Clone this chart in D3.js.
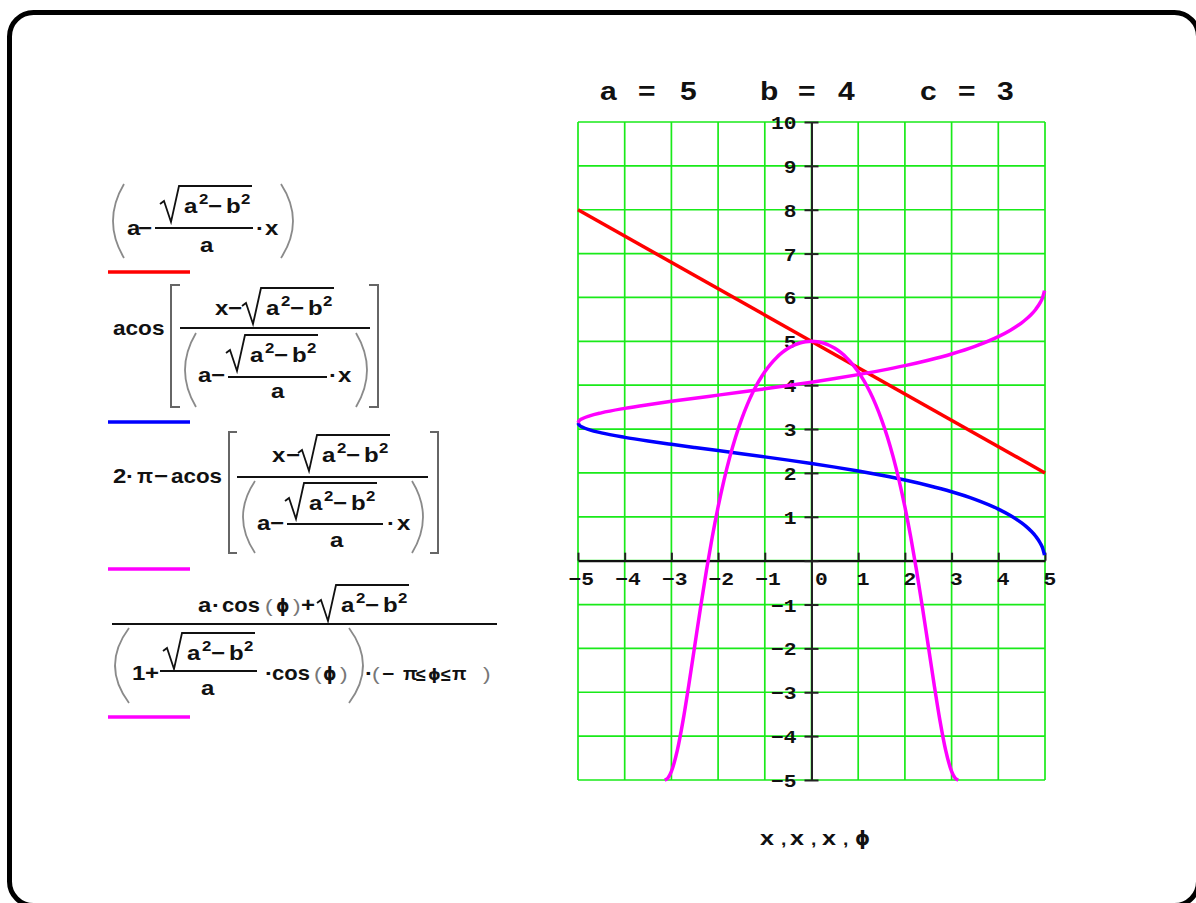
<!DOCTYPE html>
<html>
<head>
<meta charset="utf-8">
<script src="https://cdn.jsdelivr.net/npm/d3@7"></script>
<style>
  html, body { margin: 0; padding: 0; background: #ffffff; }
  svg { display: block; }
  text { font-family: "Liberation Sans", Arial, sans-serif; font-weight: bold; fill: #111; }
</style>
</head>
<body>
<svg id="chart" width="1196" height="903"></svg>
<script>
// Constants shown in the header line
const paramNames = ["a", "b", "c"];
const paramValues = [5, 4, 3];

// Axis ticks
const xTicks = [-5, -4, -3, -2, -1, 0, 1, 2, 3, 4, 5];
const yTicks = [-5, -4, -3, -2, -1, 0, 1, 2, 3, 4, 5, 6, 7, 8, 9, 10];

// Trace 1: straight line
const xLine = [-5, 5];
const yLine = [8, 2];

// Traces 2 and 3: sampled along x
const xArc = [-5, -4.97, -4.9, -4.75, -4.5, -4, -3.5, -3, -2.5, -2, -1.5, -1, -0.5, 0, 0.5, 1, 1.5, 2, 2.5, 3, 3.5, 4, 4.25, 4.5, 4.6, 4.7, 4.8, 4.9, 4.95, 4.99];
const yAcos = [3.142, 3.087, 3.041, 2.982, 2.913, 2.811, 2.727, 2.652, 2.580, 2.509, 2.438, 2.366, 2.292, 2.214, 2.132, 2.043, 1.945, 1.837, 1.714, 1.571, 1.398, 1.176, 1.035, 0.860, 0.775, 0.676, 0.557, 0.397, 0.282, 0.126];
const yAcos2 = [3.142, 3.196, 3.242, 3.301, 3.370, 3.472, 3.556, 3.632, 3.704, 3.774, 3.845, 3.917, 3.991, 4.069, 4.152, 4.241, 4.338, 4.446, 4.569, 4.712, 4.886, 5.107, 5.248, 5.423, 5.508, 5.607, 5.727, 5.887, 6.002, 6.157];

// Trace 4: sampled along phi
const phiVals = [-3.1416, -3.07, -3.0, -2.875, -2.75, -2.625, -2.5, -2.375, -2.25, -2.125, -2.0, -1.875, -1.75, -1.625, -1.5, -1.375, -1.25, -1.125, -1.0, -0.875, -0.75, -0.625, -0.5, -0.375, -0.25, -0.125,
                 0,
                 0.125, 0.25, 0.375, 0.5, 0.625, 0.75, 0.875, 1.0, 1.125, 1.25, 1.375, 1.5, 1.625, 1.75, 1.875, 2.0, 2.125, 2.25, 2.375, 2.5, 2.625, 2.75, 2.875, 3.0, 3.07, 3.1416];
const rVals = [-5, -4.949, -4.803, -4.330, -3.640, -2.817, -1.937, -1.060, -0.226, 0.540, 1.225, 1.832, 2.361, 2.821, 3.217, 3.558, 3.849, 4.096, 4.306, 4.482, 4.627, 4.746, 4.840, 4.911, 4.961, 4.990,
               5.000,
               4.990, 4.961, 4.911, 4.840, 4.746, 4.627, 4.482, 4.306, 4.096, 3.849, 3.558, 3.217, 2.821, 2.361, 1.832, 1.225, 0.540, -0.226, -1.060, -1.937, -2.817, -3.640, -4.330, -4.803, -4.949, -5];

const traceColors = ["#ff0000", "#0000ff", "#ff00ff", "#ff00ff"];

const svg = d3.select("#chart");
const SX = 1.2;                // glyphs are drawn slightly widened

// ---------- outer frame ----------
svg.append("rect")
  .attr("x", 9.5).attr("y", 12.5)
  .attr("width", 1189).attr("height", 893)
  .attr("rx", 24).attr("ry", 24)
  .attr("fill", "none").attr("stroke", "#000").attr("stroke-width", 5);

// ---------- plot ----------
const x = d3.scaleLinear().domain([-5, 5]).range([578, 1045]);
const y = d3.scaleLinear().domain([-5, 10]).range([780, 122]);

const grid = svg.append("g").attr("stroke", "#19ea19").attr("stroke-width", 1.7);
grid.selectAll("line.v").data(xTicks).join("line").attr("class", "v")
  .attr("x1", d => x(d)).attr("x2", d => x(d))
  .attr("y1", y(10)).attr("y2", y(-5));
grid.selectAll("line.h").data(yTicks).join("line").attr("class", "h")
  .attr("x1", x(-5)).attr("x2", x(5))
  .attr("y1", d => y(d)).attr("y2", d => y(d));

const fmt = d => d < 0 ? "\u2212" + Math.abs(d) : String(d);
const tickFont = "'Liberation Mono', 'DejaVu Sans Mono', monospace";

const gx = svg.append("g")
  .attr("transform", `translate(0,${y(0)})`)
  .call(d3.axisTop(x).tickValues(xTicks).tickSize(8).tickSizeOuter(0).tickFormat(fmt));
gx.select(".domain").attr("stroke", "#111").attr("stroke-width", 2.2);
gx.selectAll(".tick line").attr("stroke", "#222").attr("stroke-width", 2);
gx.selectAll(".tick text")
  .attr("x", null).attr("y", null).attr("dy", null)
  .attr("text-anchor", "start")
  .attr("transform", d => `translate(${d < 0 ? -10 : (d === 0 ? 3 : -2)},24) scale(1.12,1)`)
  .style("font-family", tickFont)
  .style("font-size", "19px").style("font-weight", "bold").style("fill", "#111");

const gy = svg.append("g")
  .attr("transform", `translate(${x(0)},0)`)
  .call(d3.axisLeft(y).tickValues(yTicks).tickSize(7).tickSizeOuter(0).tickFormat(d => d === 0 ? "" : fmt(d)));
gy.select(".domain").attr("stroke", "#222").attr("stroke-width", 2);
gy.selectAll(".tick line").attr("x1", -7).attr("x2", 7).attr("stroke", "#222").attr("stroke-width", 2);
gy.selectAll(".tick text")
  .attr("x", null).attr("y", null).attr("dy", null)
  .attr("text-anchor", "end")
  .attr("transform", `translate(-15,6.5) scale(1.12,1)`)
  .style("font-family", tickFont)
  .style("font-size", "19px").style("font-weight", "bold").style("fill", "#111");

// traces
const line = d3.line().x(d => x(d[0])).y(d => y(d[1])).curve(d3.curveMonotoneX);
const traces = [
  d3.zip(xLine, yLine),
  d3.zip(xArc, yAcos),
  d3.zip(xArc, yAcos2),
  d3.zip(phiVals, rVals)
];
svg.append("g").selectAll("path").data(traces).join("path")
  .attr("d", line)
  .attr("fill", "none")
  .attr("stroke", (d, i) => traceColors[i])
  .attr("stroke-width", 3.5)
  .attr("stroke-linejoin", "round");

// header with the constants
const titleX = [[600, 638, 680], [760, 798, 838], [920, 958, 997]];
const head = svg.append("g");
paramNames.forEach((n, i) => {
  [n, "=", String(paramValues[i])].forEach((s, j) => {
    head.append("text")
      .attr("transform", `translate(${titleX[i][j]},100) scale(1.2,1)`)
      .style("font-size", "25px").text(s);
  });
});

// axis title under the plot
const xt = svg.append("g");
[["x", 760], [",", 781], ["x", 790], [",", 811], ["x", 822], [",", 843], ["\u03D5", 855]].forEach(([s, px]) => {
  xt.append("text")
    .attr("transform", `translate(${px},845) scale(${s === "\u03D5" ? 1 : 1.2},1)`)
    .style("font-size", s === "," ? "16px" : (s === "\u03D5" ? "19px" : "21px"))
    .style("font-family", s === "\u03D5" ? "'DejaVu Sans', sans-serif" : null)
    .text(s);
});

// ---------- expressions beside the plot ----------
const ex = svg.append("g");

function t(px, py, s, size = 20, opts = {}) {
  const el = ex.append("text")
    .attr("transform", `translate(${px},${py}) scale(${opts.sx || SX},1)`)
    .style("font-size", size + "px")
    .text(s);
  if (opts.family) el.style("font-family", opts.family);
  if (opts.fill) el.style("fill", opts.fill);
  if (opts.weight) el.style("font-weight", opts.weight);
  return el;
}
function a2b2(px, b) {
  t(px, b, "a");
  t(px + 15, b - 9, "2", 14);
  t(px + 24, b, "\u2212");
  t(px + 42, b, "b");
  t(px + 57, b - 9, "2", 14);
}
function radical(x0, b) {
  ex.append("path")
    .attr("d", `M${x0},${b - 9} L${x0 + 4},${b - 12} L${x0 + 11},${b + 9} L${x0 + 19},${b - 27} L${x0 + 92},${b - 27}`)
    .attr("fill", "none").attr("stroke", "#111").attr("stroke-width", 1.8).attr("stroke-linejoin", "miter");
  a2b2(x0 + 24, b);
}
function bar(x1, x2, yy) {
  ex.append("line").attr("x1", x1).attr("x2", x2).attr("y1", yy).attr("y2", yy)
    .attr("stroke", "#111").attr("stroke-width", 2);
}
function paren(apex, ends, y1, y2) {
  const c = 2 * apex - ends;
  ex.append("path")
    .attr("d", `M${ends},${y1} Q${c},${(y1 + y2) / 2} ${ends},${y2}`)
    .attr("fill", "none").attr("stroke", "#8a8a8a").attr("stroke-width", 1.8);
}
function bracket(xv, xs, y1, y2) {
  ex.append("path")
    .attr("d", `M${xs},${y1} L${xv},${y1} L${xv},${y2} L${xs},${y2}`)
    .attr("fill", "none").attr("stroke", "#666").attr("stroke-width", 2);
}
function swatch(yy, color) {
  ex.append("line").attr("x1", 108).attr("x2", 190).attr("y1", yy).attr("y2", yy)
    .attr("stroke", color).attr("stroke-width", 3.5);
}
const PHI = "\u03D5";
const PHIOPT = { family: "'DejaVu Sans', sans-serif", sx: 1 };
const THIN = { fill: "#777", weight: "normal" };

// 1) a - sqrt(a^2-b^2)/a * x
paren(113, 124, 184, 258);
t(127, 235, "a"); t(138, 235, "\u2212");
bar(155, 253, 228);
radical(160, 213);
t(200, 252, "a");
t(256, 235, "\u00B7"); t(265, 235, "x");
paren(293, 281, 184, 258);
swatch(272, traceColors[0]);

// 2) acos[ (x - sqrt(a^2-b^2)) / (a - sqrt(a^2-b^2)/a * x) ]
t(113, 335, "acos", 20, { sx: 1.13 });
bracket(171, 180, 285, 407);
t(215, 315, "x"); t(228, 315, "\u2212");
radical(242, 315);
bar(180, 370, 328);
paren(185, 196, 333, 407);
t(198, 382, "a"); t(211, 382, "\u2212");
bar(228, 327, 377);
radical(226, 362);
t(271, 398, "a");
t(329, 382, "\u00B7"); t(338, 382, "x");
paren(367, 356, 333, 407);
bracket(378, 369, 285, 407);
swatch(422, traceColors[1]);

// 3) 2*pi - acos[ ... ]
t(113, 483, "2"); t(126, 483, "\u00B7");
t(137, 483, "\u03C0", 20, { sx: 1.05 });
t(154, 483, "\u2212");
t(171, 483, "acos", 20, { sx: 1.12 });
bracket(229, 237, 432, 553);
t(272, 462, "x"); t(286, 462, "\u2212");
radical(298, 462);
bar(237, 428, 477);
paren(243, 255, 481, 553);
t(257, 530, "a"); t(270, 530, "\u2212");
bar(287, 383, 524);
radical(285, 510);
t(330, 547, "a");
t(387, 530, "\u00B7"); t(397, 530, "x");
paren(423, 412, 481, 553);
bracket(438, 430, 432, 553);
swatch(569, traceColors[2]);

// 4) (a cos(phi) + sqrt(a^2-b^2)) / (1 + sqrt(a^2-b^2)/a cos(phi)) * (-pi <= phi <= pi)
t(198, 612, "a"); t(212, 612, "\u00B7"); t(222, 612, "cos", 20, { sx: 1.1 });
t(265, 612, "(", 19, THIN);
t(276, 612, PHI, 17, PHIOPT);
t(293, 612, ")", 19, THIN);
t(301, 612, "+");
radical(317, 612);
bar(112, 497, 624);
paren(115, 129, 628, 703);
t(132, 680, "1"); t(145, 680, "+");
bar(160, 257, 671);
radical(163, 660);
t(201, 695, "a");
t(265, 680, "\u00B7"); t(272, 680, "cos", 20, { sx: 1.1 });
t(314, 680, "(", 19, THIN);
t(323, 680, PHI, 17, PHIOPT);
t(340, 680, ")", 19, THIN);
paren(363, 349, 628, 703);
t(365, 680, "\u00B7");
t(372, 680, "(", 19, THIN);
t(382, 680, "\u2212", 19, { sx: 1.1 });
t(403, 680, "\u03C0", 19, { sx: 1 });
t(416, 681, "\u2264", 18, { sx: 1 });
t(428, 680, PHI, 16, PHIOPT);
t(441, 681, "\u2264", 18, { sx: 1 });
t(452, 680, "\u03C0", 19, { sx: 1 });
t(483, 680, ")", 19, THIN);
swatch(717, traceColors[3]);
</script>
</body>
</html>
